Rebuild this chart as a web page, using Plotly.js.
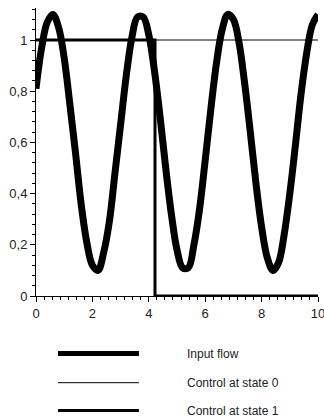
<!DOCTYPE html>
<html>
<head>
<meta charset="utf-8">
<script src="https://cdn.plot.ly/plotly-3.0.1.min.js"></script>
<style>html,body{margin:0;padding:0;background:#fff;}#chart{width:324px;height:419px;}</style>
</head>
<body>
<div id="chart"></div>
<script>
// Input flow
var flowX = [0,0.2,0.4,0.6,0.8,1.0,1.2,1.4,1.6,1.8,2.0,2.2,2.4,2.6,2.8,3.0,3.2,3.4,3.6,3.8,4.0,4.2,4.4,4.6,4.8,5.0,5.2,5.4,5.6,5.8,6.0,6.2,6.4,6.6,6.8,7.0,7.2,7.4,7.6,7.8,8.0,8.2,8.4,8.6,8.8,9.0,9.2,9.4,9.6,9.8,10.0];
var flowY = [0.81,0.97,1.07,1.10,1.05,0.93,0.75,0.56,0.36,0.21,0.12,0.10,0.17,0.29,0.48,0.67,0.86,1.01,1.09,1.09,1.02,0.88,0.70,0.50,0.32,0.18,0.11,0.11,0.20,0.34,0.53,0.73,0.91,1.04,1.10,1.08,0.99,0.83,0.64,0.44,0.27,0.15,0.10,0.13,0.24,0.40,0.59,0.79,0.95,1.06,1.10];
// Control at state 0
var state0X = [0, 10];
var state0Y = [1, 1];
// Control at state 1
var state1X = [0, 4.22, 4.22, 10];
var state1Y = [1, 1, 0, 0];
// Tick labels
var xTickVals = [0, 2, 4, 6, 8, 10];
var xTickText = ["0", "2", "4", "6", "8", "10"];
var yTickVals = [0, 0.2, 0.4, 0.6, 0.8, 1];
var yTickText = ["0", "0,2", "0,4", "0,6", "0,8", "1"];
var seriesNames = ["Input flow", "Control at state 0", "Control at state 1"];

var traces = [
  {x: state0X, y: state0Y, mode: 'lines', name: seriesNames[1], line: {color: '#000', width: 1}, cliponaxis: false},
  {x: state1X, y: state1Y, mode: 'lines', name: seriesNames[2], line: {color: '#000', width: 3}, cliponaxis: false},
  {x: flowX, y: flowY, mode: 'lines', name: seriesNames[0], line: {color: '#000', width: 7, shape: 'spline'}, cliponaxis: false}
];

// legend drawn manually (long sample lines)
var legRows = [-0.2, -0.301, -0.398];
var legWidths = [5, 1, 3];
var shapes = [], annotations = [];
for (var i = 0; i < 3; i++) {
  shapes.push({type: 'line', xref: 'paper', yref: 'paper', x0: 0.078, x1: 0.365, y0: legRows[i], y1: legRows[i],
    line: {color: '#000', width: legWidths[i]}});
  annotations.push({xref: 'paper', yref: 'paper', x: 0.528, y: legRows[i], xanchor: 'left', yanchor: 'middle',
    text: seriesNames[i], showarrow: false, font: {family: 'Liberation Sans, Arial, sans-serif', size: 12, color: '#222'}});
}

var layout = {
  width: 324, height: 419,
  margin: {l: 36, r: 6, t: 8, b: 123},
  paper_bgcolor: '#fff', plot_bgcolor: '#fff',
  showlegend: false,
  font: {family: 'Liberation Sans, Arial, sans-serif', size: 13, color: '#222'},
  xaxis: {
    range: [0, 10], showgrid: false, zeroline: false, showline: true, linecolor: '#000', linewidth: 1,
    tickmode: 'array', tickvals: xTickVals, ticktext: xTickText, ticklabeloverflow: 'allow',
    ticks: 'outside', ticklen: 5, tickcolor: '#000', tickwidth: 1,
    minor: {dtick: 2/7, tick0: 0, ticks: 'outside', ticklen: 3, tickcolor: '#000', tickwidth: 1, showgrid: false}
  },
  yaxis: {
    range: [0, 1.125], showgrid: false, zeroline: false, showline: true, linecolor: '#000', linewidth: 1,
    tickmode: 'array', tickvals: yTickVals, ticktext: yTickText, ticklabeloverflow: 'allow',
    ticks: 'outside', ticklen: 5, tickcolor: '#000', tickwidth: 1,
    minor: {dtick: 0.04, tick0: 0, ticks: 'outside', ticklen: 3, tickcolor: '#000', tickwidth: 1, showgrid: false}
  },
  shapes: shapes,
  annotations: annotations
};

Plotly.newPlot('chart', traces, layout, {staticPlot: true, displayModeBar: false});
</script>
</body>
</html>
